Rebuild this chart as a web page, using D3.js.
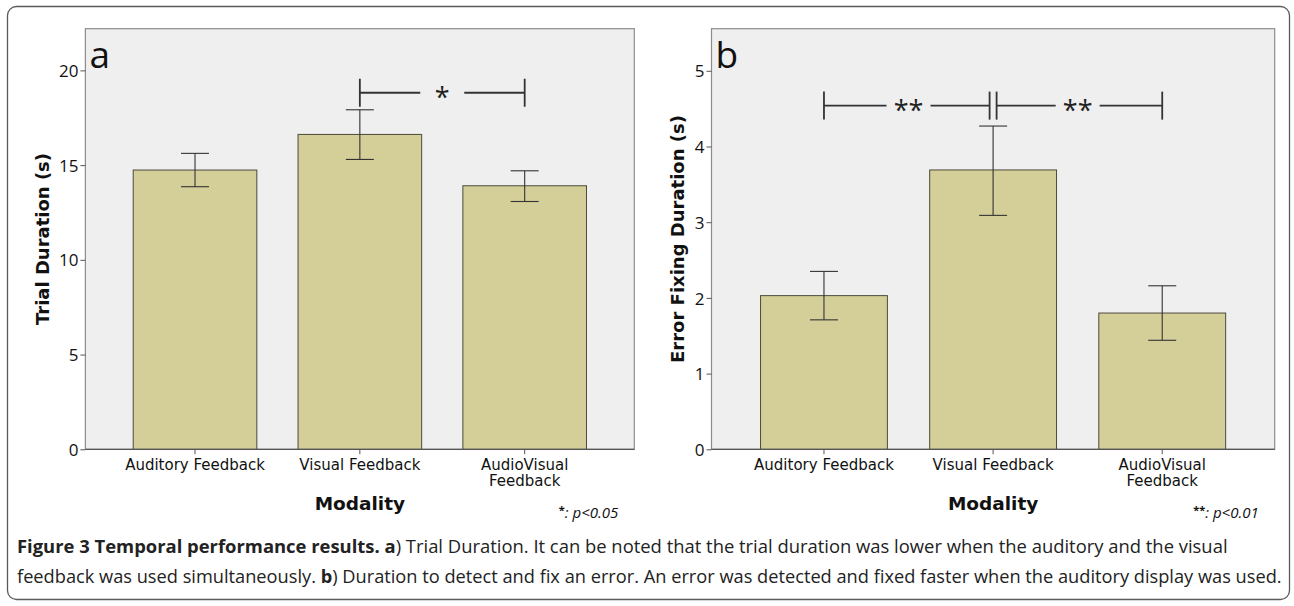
<!DOCTYPE html>
<html>
<head>
<meta charset="utf-8">
<script src="https://cdn.jsdelivr.net/npm/d3@7"></script>
<style>
  body { margin: 0; background: #fff; }
  svg { display: block; font-family: "Open Sans", "Noto Sans", sans-serif; }
</style>
</head>
<body>
<svg id="chart" width="1294" height="606"></svg>
<script>
// data
const modalities = ["Auditory Feedback", "Visual Feedback", "AudioVisual Feedback"];
const trialMean = [14.74, 16.62, 13.91];
const trialLow  = [13.86, 15.30, 13.08];
const trialHigh = [15.62, 17.92, 14.70];
const fixMean = [2.03, 3.69, 1.80];
const fixLow  = [1.71, 3.09, 1.44];
const fixHigh = [2.35, 4.27, 2.16];
const trialTicks = [0, 5, 10, 15, 20];
const fixTicks = [0, 1, 2, 3, 4, 5];
// significance brackets: [from, to, level, label]
const trialSig = [[1, 2, 18.82, "*"]];
const fixSig = [[0, 1, 4.54, "**"], [1, 2, 4.54, "**"]];

const svg = d3.select("#chart");
const sansWide = "'DejaVu Sans', Verdana, sans-serif";

// outer frame
svg.append("rect")
  .attr("x", 7.5).attr("y", 6.5)
  .attr("width", 1282).attr("height", 593)
  .attr("rx", 9)
  .attr("fill", "none")
  .attr("stroke", "#5a5a5a")
  .attr("stroke-width", 1.3);

function panel(opt) {
  const g = svg.append("g");
  const x = d3.scaleBand()
    .domain(modalities)
    .range([opt.left, opt.right])
    .paddingInner(0.25)
    .paddingOuter(0.29);
  const y = d3.scaleLinear()
    .domain([0, opt.max])
    .range([opt.bottom, opt.top]);

  g.append("rect")
    .attr("x", opt.left).attr("y", opt.top)
    .attr("width", opt.right - opt.left)
    .attr("height", opt.bottom - opt.top)
    .attr("fill", "#efefef")
    .attr("stroke", "#8c8c8c")
    .attr("stroke-width", 1.2);

  g.append("text")
    .attr("x", opt.left + 4).attr("y", 68)
    .attr("font-size", 37)
    .attr("fill", "#111")
    .text(opt.letter);

  g.selectAll("rect.bar")
    .data(opt.mean)
    .join("rect")
    .attr("class", "bar")
    .attr("x", (d, i) => x(modalities[i]))
    .attr("y", d => y(d))
    .attr("width", x.bandwidth())
    .attr("height", d => y(0) - y(d))
    .attr("fill", "#d4cf98")
    .attr("stroke", "#4b4a3c")
    .attr("stroke-width", 1);

  // error bars
  const cx = i => x(modalities[i]) + x.bandwidth() / 2;
  const eb = g.append("g").attr("stroke", "#333").attr("stroke-width", 1.1);
  opt.mean.forEach((d, i) => {
    eb.append("line").attr("x1", cx(i)).attr("x2", cx(i))
      .attr("y1", y(opt.low[i])).attr("y2", y(opt.high[i]));
    [opt.low[i], opt.high[i]].forEach(v => {
      eb.append("line").attr("x1", cx(i) - 14).attr("x2", cx(i) + 14)
        .attr("y1", y(v)).attr("y2", y(v));
    });
  });

  // significance brackets
  const sg = g.append("g").attr("stroke", "#333").attr("stroke-width", 1.8);
  opt.sig.forEach(([a, b, lvl, lab]) => {
    let x1 = cx(a), x2 = cx(b);
    if (opt.sig.length > 1) {
      if (a === 1) x1 += 3.5;
      if (b === 1) x2 -= 3.5;
    }
    const yy = y(lvl), mid = (cx(a) + cx(b)) / 2;
    sg.append("line").attr("x1", x1).attr("x2", mid - 22).attr("y1", yy).attr("y2", yy);
    sg.append("line").attr("x1", mid + 22).attr("x2", x2).attr("y1", yy).attr("y2", yy);
    [x1, x2].forEach(xx => {
      sg.append("line").attr("x1", xx).attr("x2", xx).attr("y1", yy - 14).attr("y2", yy + 14);
    });
    g.append("text")
      .attr("x", mid).attr("y", yy + 14)
      .attr("text-anchor", "middle")
      .attr("font-size", 27)
      .attr("fill", "#222")
      .text(lab);
  });

  // axes
  const yAxis = g.append("g")
    .attr("transform", `translate(${opt.left},0)`)
    .call(d3.axisLeft(y).tickValues(opt.ticks).tickSize(5).tickPadding(2).tickFormat(d3.format("d")));
  const xAxis = g.append("g")
    .attr("transform", `translate(0,${opt.bottom})`)
    .call(d3.axisBottom(x).tickSize(5).tickPadding(5).tickFormat(""));
  [yAxis, xAxis].forEach(ax => {
    ax.select(".domain").remove();
    ax.selectAll("line").attr("stroke", "#555");
  });
  yAxis.selectAll("text")
    .attr("font-family", "'Liberation Sans Narrow', 'Open Sans', sans-serif")
    .attr("font-size", 17)
    .attr("fill", "#111")
    .attr("dy", "0.36em");
  g.append("line")
    .attr("x1", opt.left).attr("x2", opt.right)
    .attr("y1", opt.bottom).attr("y2", opt.bottom)
    .attr("stroke", "#555").attr("stroke-width", 1.2);

  // category labels, wrapped like the original
  modalities.forEach((m, i) => {
    const lines = m === "AudioVisual Feedback" ? ["AudioVisual", "Feedback"] : [m];
    const t = g.append("text")
      .attr("text-anchor", "middle")
      .attr("font-family", sansWide)
      .attr("font-size", 15)
      .attr("fill", "#111");
    lines.forEach((l, k) => {
      t.append("tspan").attr("x", cx(i)).attr("y", opt.bottom + 21 + k * 16).text(l);
    });
  });

  g.append("text")
    .attr("x", cx(1))
    .attr("y", 510)
    .attr("text-anchor", "middle")
    .attr("font-family", sansWide)
    .attr("font-size", 18.5)
    .attr("font-weight", "bold")
    .attr("fill", "#111")
    .text("Modality");

  g.append("text")
    .attr("transform", `translate(${opt.ylabelX},${(opt.top + opt.bottom) / 2}) rotate(-90)`)
    .attr("text-anchor", "middle")
    .attr("font-family", sansWide)
    .attr("font-size", 18)
    .attr("font-weight", "bold")
    .attr("fill", "#111")
    .text(opt.ylabel);

  const note = g.append("text")
    .attr("x", opt.right - 16).attr("y", 518)
    .attr("text-anchor", "end")
    .attr("font-size", 15)
    .attr("fill", "#111");
  note.append("tspan").attr("font-size", 11).attr("font-weight", "bold").attr("dy", -4).text(opt.stars);
  note.append("tspan").attr("dy", 4).attr("font-style", "italic").text(": p<" + opt.p);
}

panel({
  letter: "a", left: 85.4, right: 634.3, top: 28.7, bottom: 449.3, max: 22.2,
  mean: trialMean, low: trialLow, high: trialHigh, ticks: trialTicks, sig: trialSig,
  ylabel: "Trial Duration (s)", ylabelX: 49, stars: "*", p: "0.05"
});
panel({
  letter: "b", left: 711.5, right: 1274.7, top: 28.7, bottom: 449.3, max: 5.556,
  mean: fixMean, low: fixLow, high: fixHigh, ticks: fixTicks, sig: fixSig,
  ylabel: "Error Fixing Duration (s)", ylabelX: 684, stars: "**", p: "0.01"
});

// caption
const cap1 = svg.append("text").attr("x", 17).attr("y", 553).attr("font-size", 15.5).attr("fill", "#222");
cap1.append("tspan").attr("font-weight", "bold").text("Figure 3 Temporal performance results. a");
cap1.append("tspan").text(") Trial Duration. It can be noted that the trial duration was lower when the auditory and the visual");
const cap2 = svg.append("text").attr("x", 17).attr("y", 583).attr("font-size", 15.5).attr("fill", "#222");
cap2.append("tspan").text("feedback was used simultaneously. ");
cap2.append("tspan").attr("font-weight", "bold").text("b");
cap2.append("tspan").text(") Duration to detect and fix an error. An error was detected and fixed faster when the auditory display was used.");
// fit caption lines to the widths in the original
[[cap1, 1211], [cap2, 1266]].forEach(([t, w]) => {
  const cur = t.node().getComputedTextLength();
  t.attr("font-size", 15.5 * w / cur);
});
</script>
</body>
</html>
